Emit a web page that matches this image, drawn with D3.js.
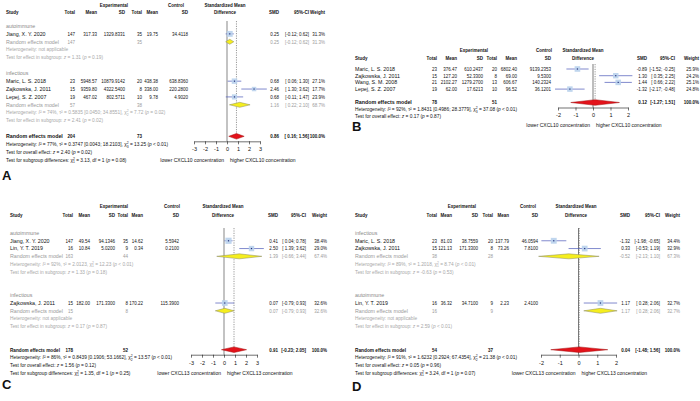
<!DOCTYPE html>
<html><head><meta charset="utf-8">
<script src="https://cdn.jsdelivr.net/npm/d3@7"></script>
<style>
body{margin:0;background:#fff}
svg{display:block;font-family:"Liberation Sans",Arial,sans-serif}
text{white-space:pre}
</style></head><body>
<svg id="fig" width="700" height="401"></svg>
<script>
// ---- data: panel A (CXCL10, subgroups)
var studiesA = [
  {study:"Jiang, X. Y. 2020", group:"autoimmune", n1:147, m1:317.33, sd1:1329.8331, n2:35, m2:19.75, sd2:34.4118, smd:0.25, lo:-0.12, hi:0.62, w:31.3},
  {study:"Maric, L. S. 2018", group:"infectious", n1:23, m1:5948.57, sd1:10879.9142, n2:20, m2:438.38, sd2:638.8360, smd:0.68, lo:0.06, hi:1.30, w:27.1},
  {study:"Zajkowska, J. 2011", group:"infectious", n1:15, m1:9359.80, sd1:4322.5400, n2:8, m2:338.00, sd2:220.2800, smd:2.46, lo:1.30, hi:3.62, w:17.7},
  {study:"Lepej, S. Z. 2007", group:"infectious", n1:19, m1:467.02, sd1:802.5711, n2:10, m2:9.78, sd2:4.9020, smd:0.68, lo:-0.11, hi:1.47, w:23.9}
];
var groupsA = [
  {group:"autoimmune", n1:147, n2:35, smd:0.25, lo:-0.12, hi:0.62, w:31.3, het:"Heterogeneity: not applicable", test:"Test for effect in subgroup: {z} = 1.31 ({p} = 0.19)"},
  {group:"infectious", n1:57, n2:38, smd:1.16, lo:0.22, hi:2.10, w:68.7, het:"Heterogeneity: {I}² = 74%, τ² = 0.5835 [0.0450; 34.8551], χ^2 = 7.72 ({p} = 0.02)", test:"Test for effect in subgroup: {z} = 2.41 ({p} = 0.02)"}
];
var overallA = {n1:204, n2:73, smd:0.86, lo:0.16, hi:1.56, w:100,
  het:"Heterogeneity: {I}² = 77%, τ² = 0.3747 [0.0043; 18.2103], χ^3 = 13.25 ({p} < 0.01)",
  test:"Test for overall effect: {z} = 2.40 ({p} = 0.02)",
  diff:"Test for subgroup differences: χ^1 = 3.13, df = 1 ({p} = 0.08)"};
var ticksA = [-3,-2,-1,0,1,2,3];
var sideA = ["lower CXCL10 concentration", "higher CXCL10 concentration"];

// ---- panel B (CXCL10, no subgroups)
var studiesB = [
  {study:"Maric, L. S. 2018", n1:23, m1:376.47, sd1:610.2437, n2:20, m2:6802.40, sd2:9139.2353, smd:-0.89, lo:-1.52, hi:-0.25, w:25.9},
  {study:"Zajkowska, J. 2011", n1:15, m1:127.20, sd1:52.3300, n2:8, m2:69.00, sd2:9.5300, smd:1.30, lo:0.35, hi:2.25, w:24.2},
  {study:"Wang, S. M. 2008", n1:21, m1:2102.27, sd1:1279.2700, n2:13, m2:606.67, sd2:140.2324, smd:1.44, lo:0.66, hi:2.22, w:25.1},
  {study:"Lepej, S. Z. 2007", n1:19, m1:62.00, sd1:17.6213, n2:10, m2:96.52, sd2:36.1201, smd:-1.32, lo:-2.17, hi:-0.48, w:24.8}
];
var groupsB = [];
var overallB = {n1:78, n2:51, smd:0.12, lo:-1.27, hi:1.51, w:100,
  het:"Heterogeneity: {I}² = 92%, τ² = 1.8431 [0.4986; 28.3779], χ^3 = 37.08 ({p} < 0.01)",
  test:"Test for overall effect: {z} = 0.17 ({p} = 0.87)", diff:null};
var ticksB = [-2,-1,0,1,2];
var sideB = ["lower CXCL10 concentration", "higher CXCL10 concentration"];

// ---- panel C (CXCL13, subgroups)
var studiesC = [
  {study:"Jiang, X. Y. 2020", group:"autoimmune", n1:147, m1:49.54, sd1:94.1346, n2:35, m2:14.62, sd2:5.5942, smd:0.41, lo:0.04, hi:0.78, w:38.4},
  {study:"Lin, Y. T. 2019", group:"autoimmune", n1:16, m1:10.84, sd1:5.0200, n2:9, m2:0.34, sd2:0.2100, smd:2.50, lo:1.39, hi:3.62, w:29.0},
  {study:"Zajkowska, J. 2011", group:"infectious", n1:15, m1:182.00, sd1:171.3300, n2:8, m2:170.22, sd2:115.3900, smd:0.07, lo:-0.79, hi:0.93, w:32.6}
];
var groupsC = [
  {group:"autoimmune", n1:163, n2:44, smd:1.39, lo:-0.66, hi:3.44, w:67.4, het:"Heterogeneity: {I}² = 92%, τ² = 2.0123, χ^1 = 12.23 ({p} < 0.01)", test:"Test for effect in subgroup: {z} = 1.33 ({p} = 0.18)"},
  {group:"infectious", n1:15, n2:8, smd:0.07, lo:-0.79, hi:0.93, w:32.6, het:"Heterogeneity: not applicable", test:"Test for effect in subgroup: {z} = 0.17 ({p} = 0.87)"}
];
var overallC = {n1:178, n2:52, smd:0.91, lo:-0.23, hi:2.05, w:100,
  het:"Heterogeneity: {I}² = 86%, τ² = 0.8439 [0.1906; 53.1662], χ^2 = 13.57 ({p} < 0.01)",
  test:"Test for overall effect: {z} = 1.56 ({p} = 0.12)",
  diff:"Test for subgroup differences: χ^1 = 1.35, df = 1 ({p} = 0.25)"};
var ticksC = [-3,-2,-1,0,1,2,3];
var sideC = ["lower CXCL13 concentration", "higher CXCL13 concentration"];

// ---- panel D (CXCL13, subgroups)
var studiesD = [
  {study:"Maric, L. S. 2018", group:"infectious", n1:23, m1:81.03, sd1:38.7559, n2:20, m2:137.79, sd2:46.0594, smd:-1.32, lo:-1.98, hi:-0.65, w:34.4},
  {study:"Zajkowska, J. 2011", group:"infectious", n1:15, m1:121.13, sd1:171.3300, n2:8, m2:73.26, sd2:7.8100, smd:0.33, lo:-0.53, hi:1.19, w:32.9},
  {study:"Lin, Y. T. 2019", group:"autoimmune", n1:16, m1:36.32, sd1:34.7100, n2:9, m2:2.23, sd2:2.4100, smd:1.17, lo:0.28, hi:2.06, w:32.7}
];
var groupsD = [
  {group:"infectious", n1:38, n2:28, smd:-0.52, lo:-2.13, hi:1.10, w:67.3, het:"Heterogeneity: {I}² = 89%, τ² = 1.2018, χ^1 = 8.74 ({p} < 0.01)", test:"Test for effect in subgroup: {z} = -0.63 ({p} = 0.53)"},
  {group:"autoimmune", n1:16, n2:9, smd:1.17, lo:0.28, hi:2.06, w:32.7, het:"Heterogeneity: not applicable", test:"Test for effect in subgroup: {z} = 2.59 ({p} < 0.01)"}
];
var overallD = {n1:54, n2:37, smd:0.04, lo:-1.48, hi:1.56, w:100,
  het:"Heterogeneity: {I}² = 91%, τ² = 1.6232 [0.2924; 67.4354], χ^2 = 21.38 ({p} < 0.01)",
  test:"Test for overall effect: {z} = 0.05 ({p} = 0.96)",
  diff:"Test for subgroup differences: χ^1 = 3.24, df = 1 ({p} = 0.07)"};
var ticksD = [-2,-1,0,1,2];
var sideD = ["lower CXCL13 concentration", "higher CXCL13 concentration"];

// ---- layout
var FS = 5.3, HS = 4.8, NX = 0.85;   // NX: horizontal squeeze for the numeric columns
var loc = d3.formatLocale({decimal:".", thousands:",", grouping:[3], currency:["",""], minus:"-"});
var f1 = loc.format(".1f"), f2 = loc.format(".2f"), f4 = loc.format(".4f"), f0 = loc.format("d");

var svg = d3.select("#fig");

function txt(g, x, y, s, o) {
  o = o || {};
  var fs = o.fs || FS, sx = o.sx || 1;
  var t = g.append("text")
    .attr("transform", "translate(" + x + "," + (y + 0.35*fs) + ")" + (sx != 1 ? " scale(" + sx + ",1)" : ""))
    .attr("font-size", fs).attr("text-anchor", o.anchor || "start")
    .attr("fill", o.fill || "#111");
  if (o.bold) t.attr("font-weight", "bold");
  if (o.rich) rich(t, s, fs); else t.text(s);
  return t;
}

// {x} -> italic, ^n -> chi-square with stacked 2 / n
function rich(t, s, fs) {
  var back = 0;
  s.split(/(\{[^}]+\}|\^\d)/).forEach(function(p) {
    if (!p) return;
    if (p[0] == "^") {
      t.append("tspan").attr("font-size", fs*0.7).attr("dy", -fs*0.4).text("2");
      t.append("tspan").attr("font-size", fs*0.7).attr("dx", -fs*0.39).attr("dy", fs*0.75).text(p[1]);
      back = -fs*0.35;
      return;
    }
    var sp = t.append("tspan");
    if (back) { sp.attr("dy", back); back = 0; }
    if (p[0] == "{") sp.attr("font-style", "italic").text(p.slice(1, -1));
    else sp.text(p);
  });
}

function ci(d) {
  return "[" + (d.lo < 0 ? "" : " ") + f2(d.lo) + "; " + f2(d.hi) + "]";
}

function drawPanel(L, studies, groups, overall, ticks, side) {
  var g = svg.append("g");
  var x = d3.scaleLinear().domain([ticks[0], ticks[ticks.length-1]]).range(L.fx);
  var y = d3.scaleLinear().domain([0, 1]).range([L.row0, L.row0 + L.step]);

  // row list
  var rows = [], i = 0;
  if (groups.length) {
    groups.forEach(function(gr) {
      rows.push({type:"group", i:i++, d:gr});
      studies.filter(function(s) { return s.group == gr.group; })
        .forEach(function(s) { rows.push({type:"study", i:i++, d:s}); });
      rows.push({type:"re", i:i++, d:gr});
      rows.push({type:"het", i:i++, t:gr.het});
      rows.push({type:"het", i:i++, t:gr.test});
      i += L.gap;
    });
  } else {
    studies.forEach(function(s) { rows.push({type:"study", i:i++, d:s}); });
    i += L.gap;
  }
  var oRow = i;
  rows.push({type:"overall", i:i++, d:overall});
  rows.push({type:"ohet", i:i++, t:overall.het});
  rows.push({type:"ohet", i:i++, t:overall.test});
  var sideRow = i;
  if (overall.diff) rows.push({type:"ohet", i:i++, t:overall.diff});

  var axisY = y(oRow) + L.axisOff;

  // headers
  var h0 = L.hdrY[0], h1 = L.hdrY[1], hb = {bold:1, anchor:"end", sx:NX};
  txt(g, L.expR, h0, "Experimental", hb);
  txt(g, L.ctlR, h0, "Control", hb);
  txt(g, L.fHead, h0, "Standardized Mean", {bold:1, anchor:"middle", sx:NX});
  txt(g, L.x0, h1, "Study", {bold:1, sx:NX});
  ["Total","Mean","SD","Total","Mean","SD"].forEach(function(h, k) {
    txt(g, L.cols[k], h1, h, hb);
  });
  txt(g, L.fHead, h1, "Difference", {bold:1, anchor:"middle", sx:NX});
  txt(g, L.smdR, h1, "SMD", hb);
  txt(g, L.ciR, h1, "95%-CI", hb);
  txt(g, L.wR, h1, "Weight", hb);

  // reference lines
  var top = y(0) - 5;
  g.append("line").attr("x1", x(0)).attr("x2", x(0)).attr("y1", top).attr("y2", axisY)
    .attr("stroke", L.zeroCol).attr("stroke-width", L.zeroW);
  g.append("line").attr("x1", x(overall.smd)).attr("x2", x(overall.smd)).attr("y1", top).attr("y2", y(oRow))
    .attr("stroke", "#555").attr("stroke-width", 0.6).attr("stroke-dasharray", "1.2,1.2");

  rows.forEach(function(r) {
    var yy = y(r.i), d = r.d;
    if (r.type == "group") {
      txt(g, L.x0, yy, d.group, {fill:"#8a8a8a"});
    } else if (r.type == "study") {
      var nb = {anchor:"end", sx:NX};
      txt(g, L.x0, yy, d.study);
      [f0(d.n1), f2(d.m1), f4(d.sd1), f0(d.n2), f2(d.m2), f4(d.sd2)].forEach(function(v, k) {
        txt(g, L.cols[k], yy, v, nb);
      });
      txt(g, L.smdR, yy, f2(d.smd), nb);
      txt(g, L.ciR, yy, ci(d), nb);
      txt(g, L.wR, yy, f1(d.w) + "%", nb);
      var s = L.sq * Math.sqrt(d.w);
      g.append("line").attr("x1", x(d.lo)).attr("x2", x(d.hi)).attr("y1", yy).attr("y2", yy)
        .attr("stroke", "#4a58b8").attr("stroke-width", 0.7);
      g.append("rect").attr("x", x(d.smd) - s/2).attr("y", yy - s/2).attr("width", s).attr("height", s)
        .attr("fill", "#b9d2ec").attr("fill-opacity", 0.9);
      g.append("rect").attr("x", x(d.smd) - 0.6).attr("y", yy - 0.6).attr("width", 1.2).attr("height", 1.2)
        .attr("fill", "#23307a");
    } else if (r.type == "re" || r.type == "overall") {
      var ov = r.type == "overall";
      var o = ov ? {bold:1} : {fill:"#9a9a9a"};
      var on = Object.assign({anchor:"end", sx:NX}, o);
      txt(g, L.x0, yy, "Random effects model", Object.assign({sx:ov ? L.boldSx : 1}, o));
      txt(g, L.cols[0], yy, f0(d.n1), on);
      txt(g, L.cols[3], yy, f0(d.n2), on);
      txt(g, L.smdR, yy, f2(d.smd), on);
      txt(g, L.ciR, yy, ci(d), on);
      txt(g, L.wR, yy, f1(d.w) + "%", on);
      var hh = ov ? 2.8 : 2.5;
      g.append("path")
        .attr("d", "M" + x(d.lo) + "," + yy + "L" + x(d.smd) + "," + (yy - hh) + "L" + x(d.hi) + "," + yy + "L" + x(d.smd) + "," + (yy + hh) + "Z")
        .attr("fill", ov ? "#e3121a" : "#f5ee1e")
        .attr("stroke", ov ? "#a01010" : "#8a8a5a").attr("stroke-width", 0.5);
    } else if (r.type == "het") {
      txt(g, L.x0, yy, r.t, {fs:HS, fill:"#a8a8a8", rich:1});
    } else {
      txt(g, L.x0, yy, r.t, {fs:HS, rich:1});
    }
  });

  // axis
  var ax = g.append("g").attr("transform", "translate(0," + axisY + ")")
    .call(d3.axisBottom(x).tickValues(ticks).tickSize(3).tickSizeOuter(0).tickPadding(3).tickFormat(f0));
  ax.attr("font-family", null).attr("font-size", null);
  ax.selectAll("text").attr("font-size", 5.5).attr("fill", "#111");
  ax.selectAll("path,line").attr("stroke", "#111").attr("stroke-width", 0.6);

  var sy = overall.diff ? y(sideRow) : axisY + 18;
  txt(g, x(0) - L.sideGap, sy, side[0], {fs:5, anchor:"end"});
  txt(g, x(0) + L.sideGap, sy, side[1], {fs:5});

  g.append("text").attr("x", L.labelXY[0]).attr("y", L.labelXY[1]).attr("font-size", 13)
    .attr("font-weight", "bold").attr("fill", "#111").text(L.label);
}

var layoutA = {x0:6, hdrY:[5,12.5], row0:26, step:7.88, gap:1, axisOff:5,
  cols:[75,97,125,142,158,188], expR:128, ctlR:184,
  fx:[194,260], fHead:225, smdR:279, ciR:309, wR:325, boldSx:1,
  zeroCol:"#aaa", zeroW:1.4, sq:1.05, sideGap:3, label:"A", labelXY:[2,180]};
var layoutB = {x0:355, hdrY:[50,58], row0:69, step:6.7, gap:1, axisOff:5,
  cols:[437,457,483,497,517,551], expR:488, ctlR:552,
  fx:[558,628], fHead:583, smdR:647, ciR:675, wR:699, boldSx:1,
  zeroCol:"#444", zeroW:0.7, sq:1.1, sideGap:3, label:"B", labelXY:[352,131]};
var layoutC = {x0:10, hdrY:[206,215], row0:233, step:7.78, gap:2, axisOff:5,
  cols:[73,90,115,128,143,179], expR:128, ctlR:180,
  fx:[191,257], fHead:223, smdR:278, ciR:306, wR:327, boldSx:0.88,
  zeroCol:"#555", zeroW:0.7, sq:1.0, sideGap:3, label:"C", labelXY:[2,389]};
var layoutD = {x0:355, hdrY:[206,215], row0:233, step:7.78, gap:2, axisOff:5,
  cols:[437,452,478,493,509,538], expR:476, ctlR:536,
  fx:[541,616], fHead:576, smdR:630, ciR:660, wR:680, boldSx:0.9,
  zeroCol:"#444", zeroW:0.7, sq:1.0, sideGap:3, label:"D", labelXY:[352,391]};

drawPanel(layoutA, studiesA, groupsA, overallA, ticksA, sideA);
drawPanel(layoutB, studiesB, groupsB, overallB, ticksB, sideB);
drawPanel(layoutC, studiesC, groupsC, overallC, ticksC, sideC);
drawPanel(layoutD, studiesD, groupsD, overallD, ticksD, sideD);
</script></body></html>
